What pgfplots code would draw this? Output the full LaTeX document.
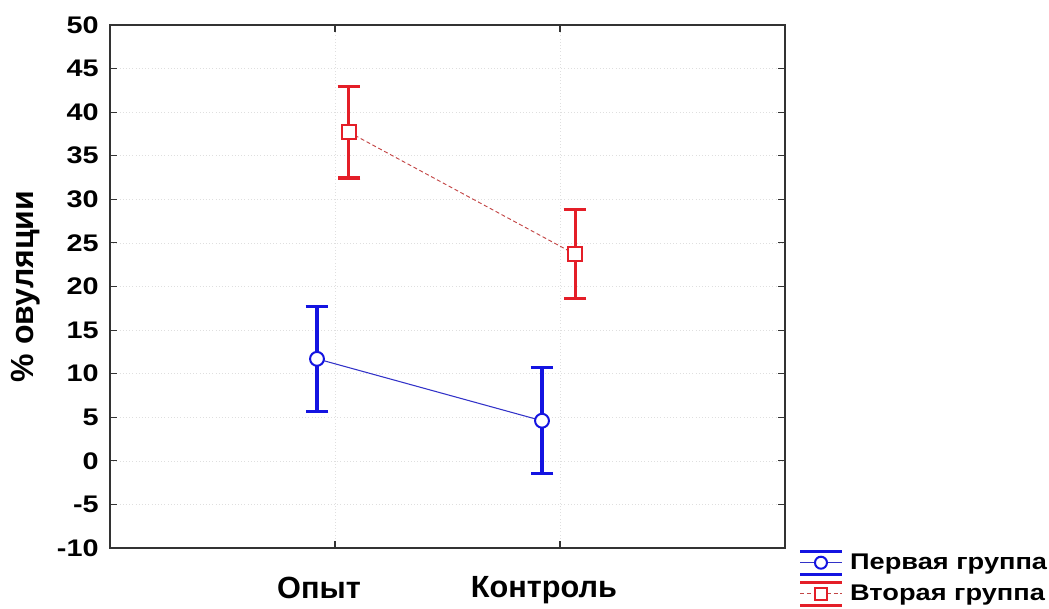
\documentclass[border=0pt]{standalone}
\usepackage{pgfplots}
\pgfplotsset{compat=1.18}
\usepackage{fontspec}
\setmainfont{Liberation Sans}
\newfontfamily\widefont[FakeStretch=1.2]{Liberation Sans}

\definecolor{bluebar}{RGB}{20,20,225}
\definecolor{blueline}{RGB}{50,50,200}
\definecolor{redbar}{RGB}{228,30,40}
\definecolor{redline}{RGB}{195,70,70}

\begin{document}
\begin{tikzpicture}
\begin{axis}[
  scale only axis,
  width=506.25pt, height=392.25pt,
  xmin=0, xmax=3, ymin=-10, ymax=50,
  xtick={1,2}, xticklabels={Опыт,Контроль},
  ytick={-10,-5,...,50},
  yticklabels={-10,-5,0,5,10,15,20,25,30,35,40,45,50},
  tick align=inside, major tick length=5pt,
  tick style={black!80, line width=0.8pt},
  grid=major, major grid style={gray!25, dotted},
  axis line style={black!80, line width=1pt},
  yticklabel style={font=\widefont\fontsize{18}{20}\selectfont\bfseries, xshift=-5pt},
  xticklabel style={font=\fontsize{23}{27}\selectfont\bfseries, yshift=-18pt, xshift=-12pt},
  ylabel={\% овуляции},
  every axis y label/.style={at={(rel axis cs:0,0.5)}, xshift=-63pt,
    rotate=90, anchor=center, font=\fontsize{24}{28}\selectfont\bfseries},
  legend style={at={(1.02,-0.003)}, anchor=north west, draw=none, fill=none,
    font=\widefont\fontsize{17}{19}\selectfont\bfseries, inner sep=0pt, row sep=4pt,
    cells={anchor=west}},
]
% first group: mean +- error
\addplot[color=blueline, line width=0.8pt, mark=*, mark size=5.2pt,
  mark options={draw=bluebar, line width=1.5pt, fill=white, solid},
  legend image code/.code={
    \draw[bluebar, solid, line width=2.3pt] (0pt,8.5pt) -- (31pt,8.5pt) (0pt,-8.5pt) -- (31pt,-8.5pt);
    \draw[blueline, solid, line width=0.8pt] (0pt,0pt) -- (31pt,0pt);
    \draw[bluebar, solid, line width=1.5pt, fill=white] (15.5pt,0pt) circle (4.5pt);
    \path (35pt,0pt);},
  error bars/.cd, y dir=both, y explicit,
  error bar style={color=bluebar, line width=2.3pt, solid},
  error mark options={color=bluebar, line width=2.3pt, rotate=90, mark size=8.5pt},
  ]
  coordinates {(0.92,11.7) +- (0,6.05) (1.92,4.6) +- (0,6.1)};
\addlegendentry{Первая группа}
% second group: mean +- error
\addplot[color=redline, line width=0.7pt, densely dashed, mark=square*, mark size=5.4pt,
  mark options={draw=redbar, line width=1.5pt, fill=white, solid},
  legend image code/.code={
    \draw[redbar, solid, line width=2.3pt] (0pt,8.5pt) -- (31pt,8.5pt) (0pt,-8.5pt) -- (31pt,-8.5pt);
    \draw[redline, densely dashed, line width=0.7pt] (0pt,0pt) -- (31pt,0pt);
    \draw[redbar, solid, line width=1.5pt, fill=white] (11pt,-4.5pt) rectangle (20pt,4.5pt);
    \path (35pt,0pt);},
  error bars/.cd, y dir=both, y explicit,
  error bar style={color=redbar, line width=2.3pt, solid},
  error mark options={color=redbar, line width=2.3pt, rotate=90, mark size=8.5pt},
  ]
  coordinates {(1.062,37.7) +- (0,5.25) (2.067,23.7) +- (0,5.1)};
\addlegendentry{Вторая группа}
\end{axis}
\pgfresetboundingbox
\path ([shift={(-82.5pt,-45.75pt)}]current axis.south west)
  rectangle ([shift={(704.25pt,411pt)}]current axis.south west);
\end{tikzpicture}
\end{document}
